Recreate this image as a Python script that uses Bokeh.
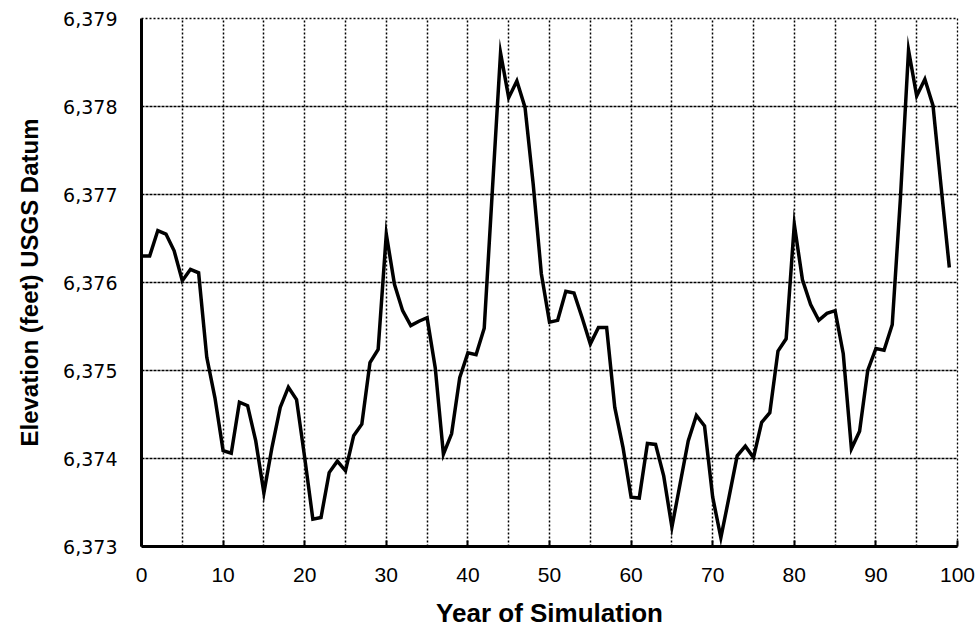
from bokeh.plotting import figure
from bokeh.models import Range1d, SingleIntervalTicker, NumeralTickFormatter
from bokeh.embed import file_html
from bokeh.resources import INLINE

years = list(range(0, 100))
elevation = [
    6376.30, 6376.30, 6376.59, 6376.55, 6376.36, 6376.02, 6376.15, 6376.11, 6375.15, 6374.69,
    6374.09, 6374.06, 6374.64, 6374.60, 6374.20, 6373.61, 6374.13, 6374.58, 6374.81, 6374.67,
    6374.01, 6373.31, 6373.33, 6373.84, 6373.97, 6373.86, 6374.26, 6374.39, 6375.09, 6375.24,
    6376.55, 6375.98, 6375.68, 6375.51, 6375.56, 6375.60, 6375.03, 6374.05, 6374.28, 6374.92,
    6375.20, 6375.18, 6375.48, 6377.05, 6378.61, 6378.10, 6378.29, 6377.99, 6377.12, 6376.10,
    6375.55, 6375.57, 6375.90, 6375.88, 6375.60, 6375.30, 6375.49, 6375.49, 6374.58, 6374.13,
    6373.56, 6373.55, 6374.17, 6374.16, 6373.80, 6373.22, 6373.71, 6374.20, 6374.49, 6374.37,
    6373.56, 6373.10, 6373.56, 6374.03, 6374.14, 6374.01, 6374.41, 6374.52, 6375.22, 6375.36,
    6376.66, 6376.03, 6375.75, 6375.57, 6375.65, 6375.68, 6375.19, 6374.11, 6374.31, 6375.00,
    6375.25, 6375.23, 6375.52, 6376.95, 6378.64, 6378.12, 6378.31, 6378.01, 6377.08, 6376.17,
]

x_label = "Year of Simulation"
y_label = "Elevation (feet) USGS Datum"

p = figure(width=979, height=631, output_backend="svg", toolbar_location=None,
           x_range=Range1d(0, 100), y_range=Range1d(6373, 6379),
           min_border_left=141, min_border_right=22, min_border_top=18, min_border_bottom=85)

p.line(years, elevation, line_color="black", line_width=3.5, line_join="miter")

# axes
p.xaxis.ticker = SingleIntervalTicker(interval=10)
p.yaxis.ticker = SingleIntervalTicker(interval=1)
p.yaxis.formatter = NumeralTickFormatter(format="0,0")
p.xaxis.axis_label = x_label
p.yaxis.axis_label = y_label

for ax in (p.xaxis[0], p.yaxis[0]):
    ax.axis_line_color = "black"
    ax.axis_line_width = 3
    ax.minor_tick_line_color = None
    ax.axis_label_text_font = "Liberation Sans"
    ax.axis_label_text_font_style = "bold"
    ax.axis_label_text_color = "black"
    ax.major_label_text_color = "black"

p.xaxis.major_tick_in = 6
p.xaxis.major_tick_out = 0
p.xaxis.major_tick_line_width = 2
p.xaxis.major_tick_line_color = "black"
p.xaxis.major_label_standoff = 17
p.xaxis.major_label_text_font = "Liberation Sans"
p.xaxis.major_label_text_font_size = "21px"
p.xaxis.axis_label_text_font_size = "26px"
p.xaxis.axis_label_standoff = 13

p.yaxis.major_tick_in = 0
p.yaxis.major_tick_out = 0
p.yaxis.major_label_standoff = 20
p.yaxis.major_label_text_font = "DejaVu Sans"
p.yaxis.major_label_text_font_size = "19px"
p.yaxis.axis_label_text_font_size = "24px"
p.yaxis.axis_label_standoff = 17

# grids
p.xgrid.ticker = SingleIntervalTicker(interval=5)
p.xgrid.grid_line_color = "black"
p.xgrid.grid_line_width = 1.5
p.xgrid.grid_line_dash = "2 2"
p.ygrid.ticker = SingleIntervalTicker(interval=1)
p.ygrid.grid_line_color = "black"
p.ygrid.grid_line_width = 1.6
p.ygrid.grid_line_dash = "3 1"

p.outline_line_color = "black"
p.outline_line_width = 1.3
p.outline_line_dash = "2 2"
p.background_fill_color = "white"
p.border_fill_color = "white"

open("out.html", "w").write(file_html(p, INLINE))
